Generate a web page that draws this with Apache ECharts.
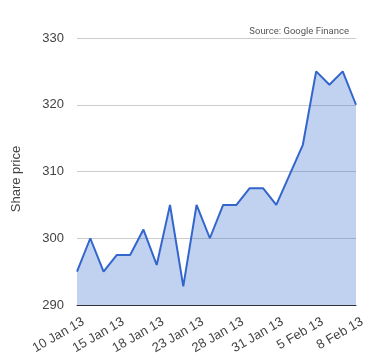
<!DOCTYPE html>
<html><head><meta charset="utf-8">
<script src="https://cdn.jsdelivr.net/npm/echarts@6/dist/echarts.min.js"></script>
<style>html,body{margin:0;padding:0;background:#fff}#c{width:380px;height:360px}</style>
</head><body><div id="c"></div>
<script>
const dates = ['10 Jan 13','11 Jan 13','14 Jan 13','15 Jan 13','16 Jan 13','17 Jan 13','18 Jan 13','21 Jan 13','22 Jan 13','23 Jan 13','24 Jan 13','25 Jan 13','28 Jan 13','29 Jan 13','30 Jan 13','31 Jan 13','1 Feb 13','4 Feb 13','5 Feb 13','6 Feb 13','7 Feb 13','8 Feb 13'];
const prices = [295, 300, 295, 297.5, 297.5, 301.3, 296, 305, 292.8, 305, 300, 305, 305, 307.5, 307.5, 305, 309.5, 314, 325, 323, 325, 320];
const yTicks = [290, 300, 310, 320, 330];
const sourceText = 'Source: Google Finance';
const yName = 'Share price';

const chart = echarts.init(document.getElementById('c'), null, {renderer: 'canvas'});
chart.setOption({
  animation: false,
  title: {
    text: sourceText, right: 26, top: 22,
    textStyle: {fontSize: 9.5, fontWeight: 'normal', color: '#555', fontFamily: 'Roboto'}
  },
  graphic: [{
    type: 'text', x: 16, y: 179, rotation: Math.PI / 2,
    style: {text: yName, fill: '#444', font: '13px Arial, Liberation Sans', textAlign: 'center', textVerticalAlign: 'middle'}
  }],
  grid: {left: 77, right: 24, top: 38, bottom: 55},
  xAxis: {
    type: 'category', data: dates, boundaryGap: false,
    axisLine: {lineStyle: {color: '#333', width: 1}},
    axisTick: {show: false},
    axisLabel: {interval: 2, rotate: 30, color: '#444', fontSize: 13, fontFamily: 'Arial, Liberation Sans',
      margin: 5, align: 'right', verticalAlign: 'top', padding: [6, 0, 0, 0]}
  },
  yAxis: {
    type: 'value', min: yTicks[0], max: yTicks[yTicks.length - 1], interval: 10,
    axisLine: {show: false}, axisTick: {show: false},
    axisLabel: {color: '#444', fontSize: 13, fontFamily: 'Arial, Liberation Sans', margin: 13},
    splitLine: {lineStyle: {color: '#ccc', width: 1}}
  },
  series: [{
    type: 'line', data: prices, symbol: 'none',
    lineStyle: {color: '#3366cc', width: 2},
    areaStyle: {color: '#3366cc', opacity: 0.3}
  }]
});
</script>
</body></html>
